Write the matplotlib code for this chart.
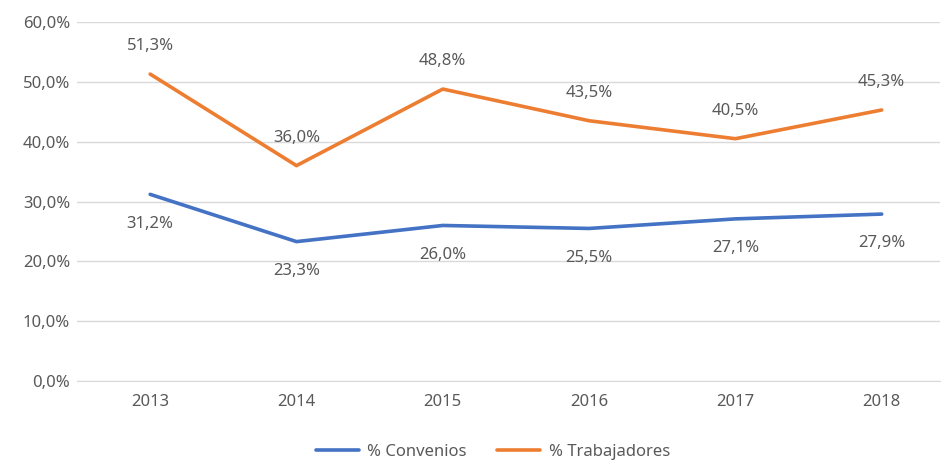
import matplotlib.pyplot as plt

years = ["2013", "2014", "2015", "2016", "2017", "2018"]
convenios = [31.2, 23.3, 26.0, 25.5, 27.1, 27.9]
trabajadores = [51.3, 36.0, 48.8, 43.5, 40.5, 45.3]

plt.rcParams['font.family'] = ['Noto Sans', 'DejaVu Sans']
gray = '#595959'

fig = plt.figure(figsize=(9.44, 4.61), dpi=100)
ax = fig.add_axes([0.0816, 0.1735, 0.9144, 0.7787])

x = list(range(len(years)))
ax.plot(x, convenios, color='#4472C4', lw=2.6, label='% Convenios', solid_capstyle='round')
ax.plot(x, trabajadores, color='#ED7D31', lw=2.6, label='% Trabajadores', solid_capstyle='round')


def fmt(v):
    return f"{v:.1f}%".replace('.', ',')


for i, v in enumerate(convenios):
    ax.annotate(fmt(v), (i, v), xytext=(0, -21), textcoords='offset points',
                ha='center', va='center', fontsize=12, color=gray)
for i, v in enumerate(trabajadores):
    ax.annotate(fmt(v), (i, v), xytext=(0, 20), textcoords='offset points',
                ha='center', va='center', fontsize=12, color=gray)

ax.set_ylim(0, 60)
ax.set_yticks(range(0, 61, 10))
ax.set_yticklabels([fmt(t) for t in range(0, 61, 10)])
ax.set_xlim(-0.5, 5.4)
ax.set_xticks(x)
ax.set_xticklabels(years)
ax.grid(axis='y', color='#D9D9D9', lw=1)
ax.set_axisbelow(True)
for s in ['top', 'right', 'left']:
    ax.spines[s].set_visible(False)
ax.spines['bottom'].set_color('#D9D9D9')
ax.tick_params(length=0, colors=gray, labelsize=12, pad=9)
ax.tick_params(axis='y', pad=5)

fig.legend(loc='lower center', bbox_to_anchor=(0.522, -0.03), ncol=2, frameon=False,
           fontsize=12, labelcolor=gray, handlelength=2.6, handletextpad=0.5,
           columnspacing=1.8)

fig.savefig('out.png', dpi=100)
